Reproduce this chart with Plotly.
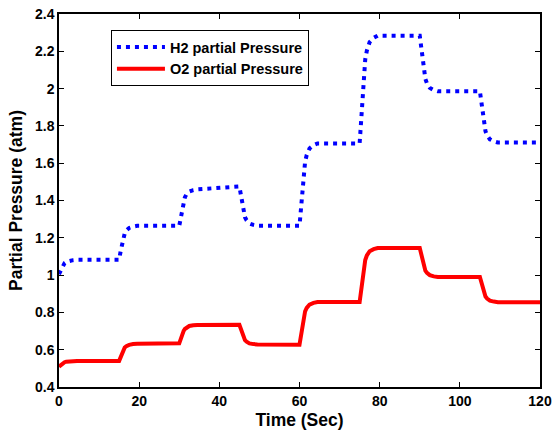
import plotly.graph_objects as go

# Time samples (s)
time_s = [0, 0.4, 0.8, 1.1, 1.4, 1.8, 2.5, 3.5, 4.5,
          15, 15.4, 15.8, 16.1, 16.4, 16.8, 17.5, 18.5, 19.5,
          30, 30.4, 30.8, 31.1, 31.4, 31.8, 32.5, 33.5, 34.5,
          45, 45.4, 45.8, 46.1, 46.4, 46.8, 47.5, 48.5, 49.5,
          60, 60.4, 60.8, 61.1, 61.4, 61.8, 62.5, 63.5, 64.5,
          75, 75.4, 75.8, 76.1, 76.4, 76.8, 77.5, 78.5, 79.5,
          90, 90.4, 90.8, 91.1, 91.4, 91.8, 92.5, 93.5, 94.5,
          105, 105.4, 105.8, 106.1, 106.4, 106.8, 107.5, 108.5, 109.5,
          120]

# H2 partial pressure (atm)
h2_pressure = [1.005, 1.026, 1.045, 1.057, 1.065, 1.071, 1.077, 1.080, 1.082,
               1.082, 1.131, 1.177, 1.206, 1.224, 1.239, 1.253, 1.260, 1.264,
               1.264, 1.317, 1.366, 1.397, 1.417, 1.433, 1.448, 1.456, 1.460,
               1.475, 1.418, 1.365, 1.332, 1.310, 1.294, 1.277, 1.269, 1.264,
               1.264, 1.383, 1.494, 1.565, 1.609, 1.644, 1.679, 1.697, 1.706,
               1.706, 1.862, 2.007, 2.099, 2.157, 2.203, 2.249, 2.272, 2.284,
               2.284, 2.204, 2.129, 2.081, 2.052, 2.028, 2.004, 1.992, 1.986,
               1.986, 1.912, 1.843, 1.799, 1.771, 1.749, 1.728, 1.717, 1.711,
               1.711]

# O2 partial pressure (atm)
o2_pressure = [0.509, 0.517, 0.525, 0.530, 0.533, 0.536, 0.538, 0.539, 0.540,
               0.540, 0.565, 0.588, 0.603, 0.612, 0.619, 0.626, 0.630, 0.632,
               0.634, 0.661, 0.685, 0.701, 0.711, 0.719, 0.727, 0.731, 0.733,
               0.734, 0.705, 0.679, 0.662, 0.651, 0.643, 0.634, 0.630, 0.628,
               0.627, 0.689, 0.746, 0.783, 0.806, 0.824, 0.842, 0.851, 0.856,
               0.856, 0.934, 1.006, 1.053, 1.081, 1.105, 1.128, 1.139, 1.145,
               1.145, 1.103, 1.064, 1.040, 1.024, 1.012, 1.000, 0.993, 0.990,
               0.990, 0.954, 0.920, 0.898, 0.885, 0.874, 0.863, 0.858, 0.855,
               0.855]

x_ticks = [0, 20, 40, 60, 80, 100, 120]
y_ticks = [0.4, 0.6, 0.8, 1.0, 1.2, 1.4, 1.6, 1.8, 2.0, 2.2, 2.4]
y_tick_labels = ["0.4", "0.6", "0.8", "1", "1.2", "1.4", "1.6", "1.8", "2", "2.2", "2.4"]

FONT = "Arial, Liberation Sans, sans-serif"

fig = go.Figure()
fig.add_trace(go.Scatter(x=time_s, y=h2_pressure, mode="lines",
                         name="H2 partial Pressure",
                         line=dict(color="#0000FF", width=4, dash="4px,5px")))
fig.add_trace(go.Scatter(x=time_s, y=o2_pressure, mode="lines",
                         name="O2 partial Pressure",
                         line=dict(color="#FF0000", width=4)))

axis_common = dict(showline=True, mirror="ticks", linecolor="black", linewidth=1.5,
                   ticks="inside", ticklen=5, tickcolor="black", showgrid=False,
                   zeroline=False,
                   tickfont=dict(family=FONT, size=14, color="black", weight="bold"))

fig.update_xaxes(range=[0, 120], tickvals=x_ticks,
                 title=dict(text="Time (Sec)", standoff=6,
                            font=dict(family=FONT, size=17.5, color="black", weight="bold")),
                 **axis_common)
fig.update_yaxes(range=[0.4, 2.4], tickvals=y_ticks, ticktext=y_tick_labels,
                 title=dict(text="Partial Pressure (atm)", standoff=8,
                            font=dict(family=FONT, size=17.5, color="black", weight="bold")),
                 **axis_common)

fig.update_layout(
    width=552, height=432,
    margin=dict(l=59, r=12, t=14, b=45, autoexpand=False),
    paper_bgcolor="white", plot_bgcolor="white",
    showlegend=True,
    legend=dict(x=0.108, y=0.957, xanchor="left", yanchor="top",
                bgcolor="white", bordercolor="black", borderwidth=1,
                font=dict(family=FONT, size=14.5, color="black", weight="bold"),
                itemwidth=48, tracegroupgap=0),
)

fig.write_html("out.html", config={"displayModeBar": False},
               post_script="document.body.style.margin='0px';document.body.style.padding='0px';")
